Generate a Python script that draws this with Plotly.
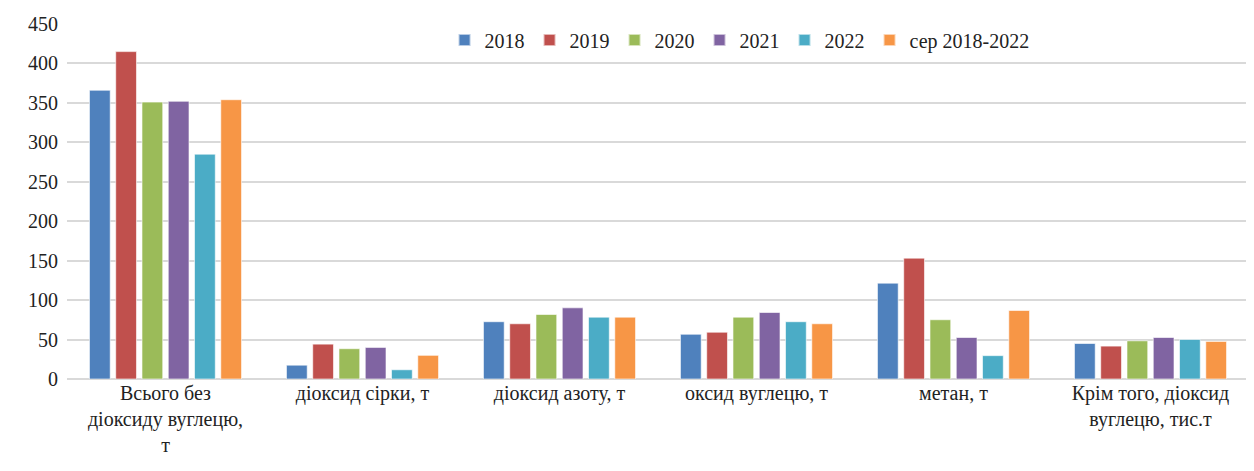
import plotly.graph_objects as go

categories = [
    "Всього без<br>діоксиду вуглецю,<br>т",
    "діоксид сірки, т",
    "діоксид азоту, т",
    "оксид вуглецю, т",
    "метан, т",
    "Крім того, діоксид<br>вуглецю, тис.т",
]
series_names = ["2018", "2019", "2020", "2021", "2022", "сер 2018-2022"]
v2018 = [366, 17.5, 72.6, 56.7, 121.5, 45]
v2019 = [415, 44.2, 70, 59.3, 153.2, 41.7]
v2020 = [351, 38.4, 81.8, 78.4, 75.1, 48.4]
v2021 = [352, 40, 90.2, 84.3, 52.6, 52.6]
v2022 = [285, 11.7, 78.4, 72.6, 29.6, 50.1]
vavg = [354, 30, 78.4, 70, 86.8, 47.6]
tick_vals = [0, 50, 100, 150, 200, 250, 300, 350, 400, 450]

colors = ["#4F81BD", "#C0504D", "#9BBB59", "#8064A2", "#4BACC6", "#F79646"]
values = [v2018, v2019, v2020, v2021, v2022, vavg]

fig = go.Figure()
for name, vals, c in zip(series_names, values, colors):
    fig.add_trace(go.Bar(
        name=name, x=categories, y=vals,
        marker=dict(color=c, line=dict(color="rgba(255,255,255,0.6)", width=1)),
    ))

font_family = "'Times New Roman', 'Liberation Serif', 'DejaVu Serif', serif"
fig.update_layout(
    width=1246, height=463,
    margin=dict(l=59, r=5, t=12, b=92),
    paper_bgcolor="white", plot_bgcolor="white",
    barmode="group", bargap=0.2, bargroupgap=0.21,
    font=dict(family=font_family, size=20, color="#222222"),
    showlegend=True,
    legend=dict(
        orientation="h", x=0.569, xanchor="center", y=1.01, yanchor="top",
        bgcolor="white", font=dict(family=font_family, size=20, color="#222222"),
        itemsizing="constant", traceorder="normal",
    ),
    xaxis=dict(showgrid=False, showline=False, ticks="", tickfont=dict(size=20)),
    yaxis=dict(
        range=[0, 450], tickvals=tick_vals, showgrid=True, gridcolor="#d9d9d9",
        gridwidth=1.5, zeroline=True, zerolinecolor="#d9d9d9", zerolinewidth=1.5,
        showline=False, ticks="", tickfont=dict(size=20), ticklabelstandoff=8,
    ),
)
fig.write_html("out.html")
